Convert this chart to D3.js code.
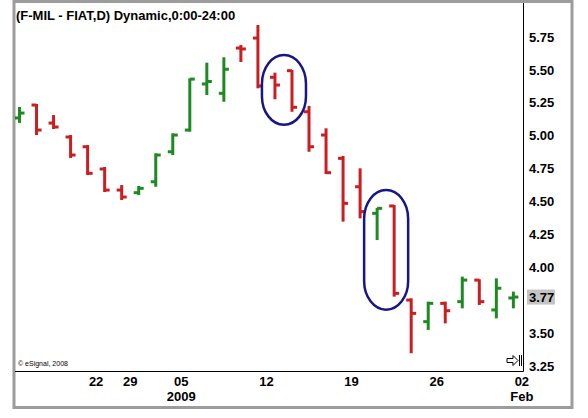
<!DOCTYPE html>
<html>
<head>
<meta charset="utf-8">
<script src="https://cdn.jsdelivr.net/npm/d3@7"></script>
<style>
  body { margin: 0; background: #fff; }
  svg { display: block; }
  text { font-family: "Liberation Sans Narrow", "Arial Narrow", "Liberation Sans", Arial, sans-serif; }
</style>
</head>
<body>
<svg width="588" height="418"></svg>
<script>
// Daily OHLC, F-MIL FIAT, Dec 2008 - Jan 2009
var dates = ["2008-12-15","2008-12-16","2008-12-17","2008-12-18","2008-12-19","2008-12-22","2008-12-23",
             "2008-12-29","2008-12-30","2009-01-02","2009-01-05","2009-01-06","2009-01-07","2009-01-08",
             "2009-01-09","2009-01-12","2009-01-13","2009-01-14","2009-01-15","2009-01-16","2009-01-19",
             "2009-01-20","2009-01-21","2009-01-22","2009-01-23","2009-01-26","2009-01-27","2009-01-28",
             "2009-01-29","2009-01-30"];
var opens  = [5.135,5.233,5.096,4.990,4.916,4.747,4.587,4.567,4.650,4.878,5.043,5.393,5.322,5.666,5.742,
              5.444,5.494,5.182,5.005,4.828,4.612,4.410,4.466,3.751,3.587,3.726,3.739,3.903,3.676,3.767];
var highs  = [5.218,5.241,5.157,5.005,4.929,4.762,4.625,4.618,4.866,5.018,5.436,5.555,5.596,5.689,5.841,
              5.479,5.499,5.226,5.056,4.846,4.752,4.451,4.473,3.764,3.739,3.739,3.929,3.909,3.916,3.815];
var lows   = [5.097,5.005,5.051,4.831,4.701,4.572,4.511,4.549,4.612,4.853,5.030,5.309,5.258,5.560,5.360,
              5.277,5.182,4.878,4.709,4.347,4.372,4.207,3.777,3.347,3.524,3.574,3.688,3.714,3.612,3.688];
var closes = [5.172,5.043,5.066,4.853,4.714,4.587,4.534,4.600,4.853,5.005,5.430,5.412,5.505,5.659,5.378,
              5.385,5.216,4.916,4.719,4.486,4.423,4.448,3.802,3.650,3.726,3.670,3.903,3.739,3.841,3.774];

// 3.75 is covered by the last-price marker
var priceTicks = [3.25,3.50,4.00,4.25,4.50,4.75,5.00,5.25,5.50,5.75];
var dayTicks = ["2008-12-22","2008-12-29","2009-01-05","2009-01-12","2009-01-19","2009-01-26","2009-02-02"];
var dayTickLabels = ["22","29","05","12","19","26","02"];
var periodTicks = ["2009-01-05","2009-02-02"];
var periodTickLabels = ["2009","Feb"];
// circled pairs of bars
var highlights = [["2009-01-12","2009-01-13"],["2009-01-20","2009-01-21"]];
var lastPrice = 3.77;

var svg = d3.select("svg");
var plotLeft = 15, plotRight = 523, plotTop = 3, plotBottom = 371;

var slots = dates.concat(["2009-02-02"]);
var x = d3.scalePoint().domain(slots).range([19.5, 19.5 + 17.03 * (slots.length - 1)]);
var step = x.step();
var y = d3.scaleLinear().domain([3.25, 5.75]).range([366, 37]);

var bars = dates.map(function(d, i) {
  return {date: d, o: opens[i], h: highs[i], l: lows[i], c: closes[i]};
});

// frame
svg.append("rect")
    .attr("x", 14).attr("y", 1.5).attr("width", 558).attr("height", 406)
    .attr("fill", "#fff").attr("stroke", "#9c9c9c").attr("stroke-width", 3);

svg.append("clipPath").attr("id", "plot")
  .append("rect").attr("x", plotLeft).attr("y", plotTop)
    .attr("width", plotRight - plotLeft).attr("height", plotBottom - plotTop);

// axis lines
svg.append("line").attr("x1", plotRight + 0.5).attr("x2", plotRight + 0.5)
    .attr("y1", plotTop).attr("y2", plotBottom + 0.5).attr("stroke", "#000");
svg.append("line").attr("x1", plotLeft).attr("x2", plotRight + 0.5)
    .attr("y1", plotBottom + 0.5).attr("y2", plotBottom + 0.5).attr("stroke", "#000");

// title
svg.append("text").attr("x", 16).attr("y", 20)
    .style("font-family", "'Liberation Sans', Arial, sans-serif")
    .style("font-size", "13px").style("font-weight", "bold")
    .text("(F-MIL - FIAT,D) Dynamic,0:00-24:00");

// price axis labels
svg.append("g").selectAll("text").data(priceTicks).enter().append("text")
    .attr("x", 529).attr("y", function(d) { return y(d); }).attr("dy", "0.36em")
    .style("font-size", "13px").style("font-weight", "bold")
    .text(function(d) { return d.toFixed(2); });

// last price marker
svg.append("rect").attr("x", 527).attr("y", y(lastPrice) - 8).attr("width", 28).attr("height", 15)
    .attr("fill", "#c4c4c4");
svg.append("text").attr("x", 529).attr("y", y(lastPrice)).attr("dy", "0.36em")
    .style("font-size", "13px").style("font-weight", "bold")
    .text(lastPrice.toFixed(2));

// date labels
svg.append("g").selectAll("text").data(dayTicks).enter().append("text")
    .attr("x", function(d) { return x(d) - step / 2; }).attr("y", 386)
    .attr("text-anchor", "middle")
    .style("font-size", "13px").style("font-weight", "bold")
    .text(function(d, i) { return dayTickLabels[i]; });
svg.append("g").selectAll("text").data(periodTicks).enter().append("text")
    .attr("x", function(d) { return x(d) - step / 2; }).attr("y", 401)
    .attr("text-anchor", "middle")
    .style("font-size", "13px").style("font-weight", "bold")
    .text(function(d, i) { return periodTickLabels[i]; });

// bars
var g = svg.append("g").attr("clip-path", "url(#plot)");
var bar = g.selectAll("g.bar").data(bars).enter().append("g")
    .attr("stroke", function(d) { return d.c >= d.o ? "#1f8a22" : "#cc1d20"; })
    .attr("stroke-width", 3);
bar.append("line")
    .attr("x1", function(d) { return x(d.date); }).attr("x2", function(d) { return x(d.date); })
    .attr("y1", function(d) { return y(d.h); }).attr("y2", function(d) { return y(d.l); });
bar.append("line")
    .attr("x1", function(d) { return x(d.date) - 5; }).attr("x2", function(d) { return x(d.date); })
    .attr("y1", function(d) { return y(d.o); }).attr("y2", function(d) { return y(d.o); });
bar.append("line")
    .attr("x1", function(d) { return x(d.date); }).attr("x2", function(d) { return x(d.date) + 5; })
    .attr("y1", function(d) { return y(d.c); }).attr("y2", function(d) { return y(d.c); });

// highlight loops
highlights.forEach(function(pair) {
  var sel = bars.filter(function(b) { return pair.indexOf(b.date) >= 0; });
  var x0 = x(pair[0]) - 13, x1 = x(pair[1]) + 14;
  var y0 = y(d3.max(sel, function(b) { return b.h; })) - 15;
  var y1 = y(d3.min(sel, function(b) { return b.l; })) + 13;
  var r = (x1 - x0) / 2;
  svg.append("rect").attr("x", x0).attr("y", y0).attr("width", x1 - x0).attr("height", y1 - y0)
      .attr("rx", r).attr("ry", Math.min(r * 1.3, (y1 - y0) / 2))
      .attr("fill", "none").attr("stroke", "#16168a").attr("stroke-width", 2.5);
});

// copyright
svg.append("text").attr("x", 18).attr("y", 366)
    .style("font-family", "'Liberation Sans', Arial, sans-serif").style("font-size", "7px")
    .text("\u00a9 eSignal, 2008");

// scroll-to-end arrow icon
svg.append("path")
    .attr("d", "M507,358.5 h6 v-3 l5,5 l-5,5 v-3 h-6 z M519.5,355 v11 M521.5,355 v11")
    .attr("fill", "#fff").attr("stroke", "#000").attr("stroke-width", 1);
</script>
</body>
</html>
